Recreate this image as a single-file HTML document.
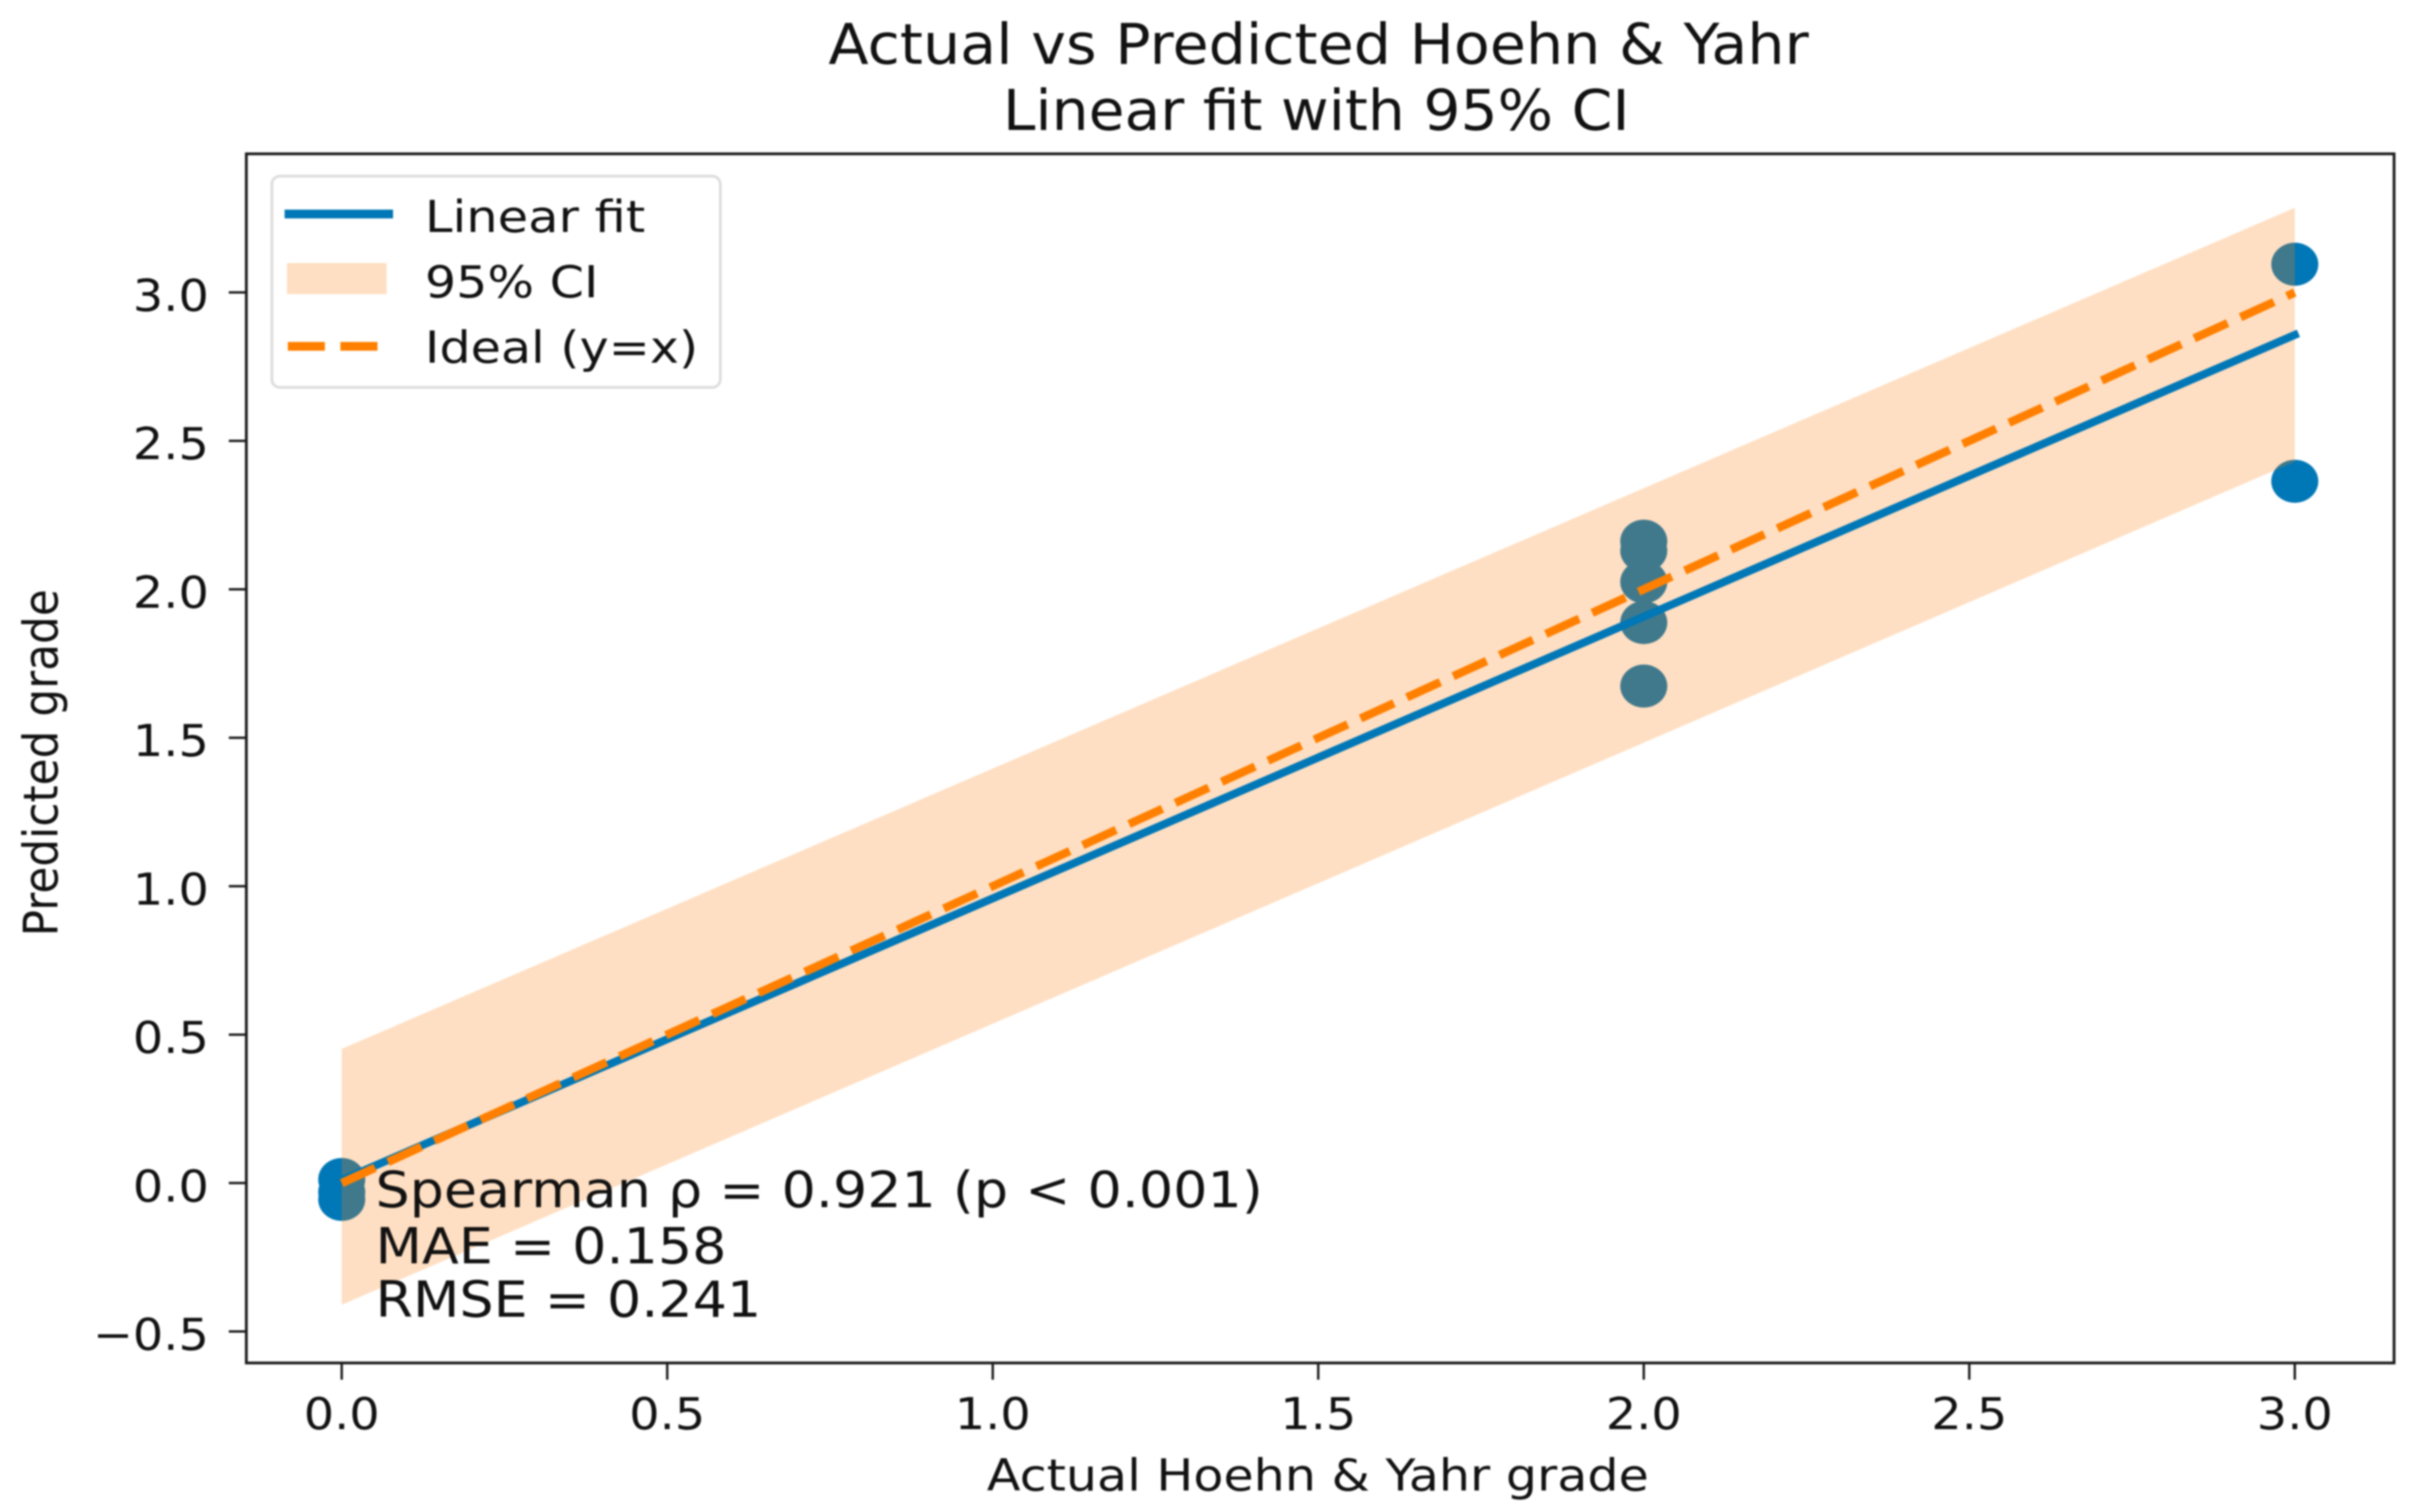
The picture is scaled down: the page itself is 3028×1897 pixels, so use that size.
<!DOCTYPE html>
<html lang="en">
<head>
<meta charset="utf-8">
<title>Actual vs Predicted Hoehn &amp; Yahr</title>
<style>
html,body{margin:0;padding:0;background:#fff;width:3028px;height:1897px;overflow:hidden}
svg{display:block;filter:blur(1.1px)}
text{font-family:"DejaVu Sans","Liberation Sans",sans-serif;fill:#111}
</style>
</head>
<body>
<svg id="chart" xmlns="http://www.w3.org/2000/svg" width="3028" height="1897" viewBox="0 0 3028 1897">
  <rect x="0" y="0" width="3028" height="1897" fill="#ffffff"/>
  <g id="points-layer"></g>
  <g id="band-layer"></g>
  <g id="lines-layer"></g>
  <g id="axes-layer"></g>

  <text font-size="70" text-anchor="middle" transform="translate(1654,80) scale(1.053,1)">Actual vs Predicted Hoehn &amp; Yahr</text>
  <text font-size="70" text-anchor="middle" transform="translate(1651,163) scale(1.046,1)">Linear fit with 95% CI</text>
  <text font-size="55" text-anchor="middle" transform="translate(1653,1870) scale(1.121,1)">Actual Hoehn &amp; Yahr grade</text>
  <text font-size="55" text-anchor="middle" transform="translate(72,957) scale(1.09,1) rotate(-90)">Predicted grade</text>

  <text font-size="62" transform="translate(471,1514.5) scale(1.09,1)">Spearman ρ = 0.921 (p &lt; 0.001)</text>
  <text font-size="62" transform="translate(471,1585) scale(1.09,1)">MAE = 0.158</text>
  <text font-size="62" transform="translate(471,1652) scale(1.09,1)">RMSE = 0.241</text>

  <g>
    <rect x="341" y="221" width="562.5" height="265" rx="10" ry="10" fill="#ffffff" fill-opacity="0.8" stroke="#dddddd" stroke-width="3.5"/>
    <line x1="357" y1="268.5" x2="493" y2="268.5" stroke="#0077b6" stroke-width="11"/>
    <rect x="360" y="330" width="125" height="39" fill="#ffdfc3"/>
    <line x1="361" y1="434.5" x2="474" y2="434.5" stroke="#ff8000" stroke-width="11" stroke-dasharray="46.5 19.5"/>
    <text font-size="55" transform="translate(533,291) scale(1.13,1)">Linear fit</text>
    <text font-size="55" transform="translate(533,373) scale(1.12,1)">95% CI</text>
    <text font-size="55" transform="translate(533,455) scale(1.122,1)">Ideal (y=x)</text>
  </g>
</svg>
<script>
// Chart data
const actualGrades = [0, 0, 0, 2, 2, 2, 2, 2, 3, 3];
const predictedGrades = [0.012, -0.03, -0.055, 1.674, 1.888, 2.025, 2.13, 2.162, 2.364, 3.095];
const lineX = [0, 3];
const fitY = [0.01, 2.857];
const ciUpperY = [0.452, 3.285];
const ciLowerY = [-0.41, 2.43];
const idealY = [0, 3];
const xTickValues = [0, 0.5, 1, 1.5, 2, 2.5, 3];
const xTickLabels = ['0.0', '0.5', '1.0', '1.5', '2.0', '2.5', '3.0'];
const yTickValues = [-0.5, 0, 0.5, 1, 1.5, 2, 2.5, 3];
const yTickLabels = ['\u22120.5', '0.0', '0.5', '1.0', '1.5', '2.0', '2.5', '3.0'];

// Plot geometry
const plotLeft = 309, plotRight = 3003, plotTop = 193, plotBottom = 1710;
const xDomain = [-0.1465, 3.1525];
const yDomain = [-0.606, 3.467];
const NS = 'http://www.w3.org/2000/svg';

function xScale(v) {
  return plotLeft + (v - xDomain[0]) / (xDomain[1] - xDomain[0]) * (plotRight - plotLeft);
}
function yScale(v) {
  return plotBottom - (v - yDomain[0]) / (yDomain[1] - yDomain[0]) * (plotBottom - plotTop);
}
function make(tag, attrs) {
  const el = document.createElementNS(NS, tag);
  for (const k in attrs) el.setAttribute(k, attrs[k]);
  return el;
}

const pointsLayer = document.getElementById('points-layer');
const bandLayer = document.getElementById('band-layer');
const linesLayer = document.getElementById('lines-layer');
const axesLayer = document.getElementById('axes-layer');

// Points sit underneath the translucent band
actualGrades.forEach(function (a, i) {
  const c = make('ellipse', { cx: xScale(a), cy: yScale(predictedGrades[i]), rx: 29.5, ry: 27, fill: '#0077b6' });
  
  
  pointsLayer.appendChild(c);
});

// Confidence band
const upperPts = lineX.map(function (x, i) { return xScale(x) + ',' + yScale(ciUpperY[i]); });
const lowerPts = lineX.map(function (x, i) { return xScale(x) + ',' + yScale(ciLowerY[i]); }).reverse();
const band = make('polygon', { points: upperPts.concat(lowerPts).join(' '), fill: '#ff7f0e', 'fill-opacity': 0.25 });


bandLayer.appendChild(band);

// Linear fit
const fitLine = make('line', {
  x1: xScale(lineX[0]), y1: yScale(fitY[0]), x2: xScale(lineX[1]), y2: yScale(fitY[1]),
  stroke: '#0077b6', 'stroke-width': 10, 'stroke-linecap': 'square'
});


linesLayer.appendChild(fitLine);

// Ideal line
const idealLine = make('line', {
  x1: xScale(lineX[0]), y1: yScale(idealY[0]), x2: xScale(lineX[1]), y2: yScale(idealY[1]),
  stroke: '#ff8000', 'stroke-width': 10.5, 'stroke-dasharray': '46 17.85'
});


linesLayer.appendChild(idealLine);

// Frame
const frame = make('rect', {
  x: plotLeft, y: plotTop, width: plotRight - plotLeft, height: plotBottom - plotTop,
  fill: 'none', stroke: '#1a1a1a', 'stroke-width': 3.5
});


axesLayer.appendChild(frame);

// X axis ticks
xTickValues.forEach(function (v, i) {
  const tick = make('line', { x1: xScale(v), x2: xScale(v), y1: plotBottom, y2: plotBottom + 21, stroke: '#1a1a1a', 'stroke-width': 3 });
  
  
  axesLayer.appendChild(tick);
  const label = make('text', { 'font-size': 55, 'text-anchor': 'middle', transform: 'translate(' + xScale(v) + ',1793) scale(1.09,1)' });
  
  
  label.textContent = xTickLabels[i];
  axesLayer.appendChild(label);
});

// Y axis ticks
yTickValues.forEach(function (v, i) {
  const tick = make('line', { x1: plotLeft - 22, x2: plotLeft, y1: yScale(v), y2: yScale(v), stroke: '#1a1a1a', 'stroke-width': 3 });
  
  
  axesLayer.appendChild(tick);
  const label = make('text', { 'font-size': 55, 'text-anchor': 'end', transform: 'translate(262,' + (yScale(v) + 23) + ') scale(1.09,1)' });
  
  
  label.textContent = yTickLabels[i];
  axesLayer.appendChild(label);
});
</script>
</body>
</html>
